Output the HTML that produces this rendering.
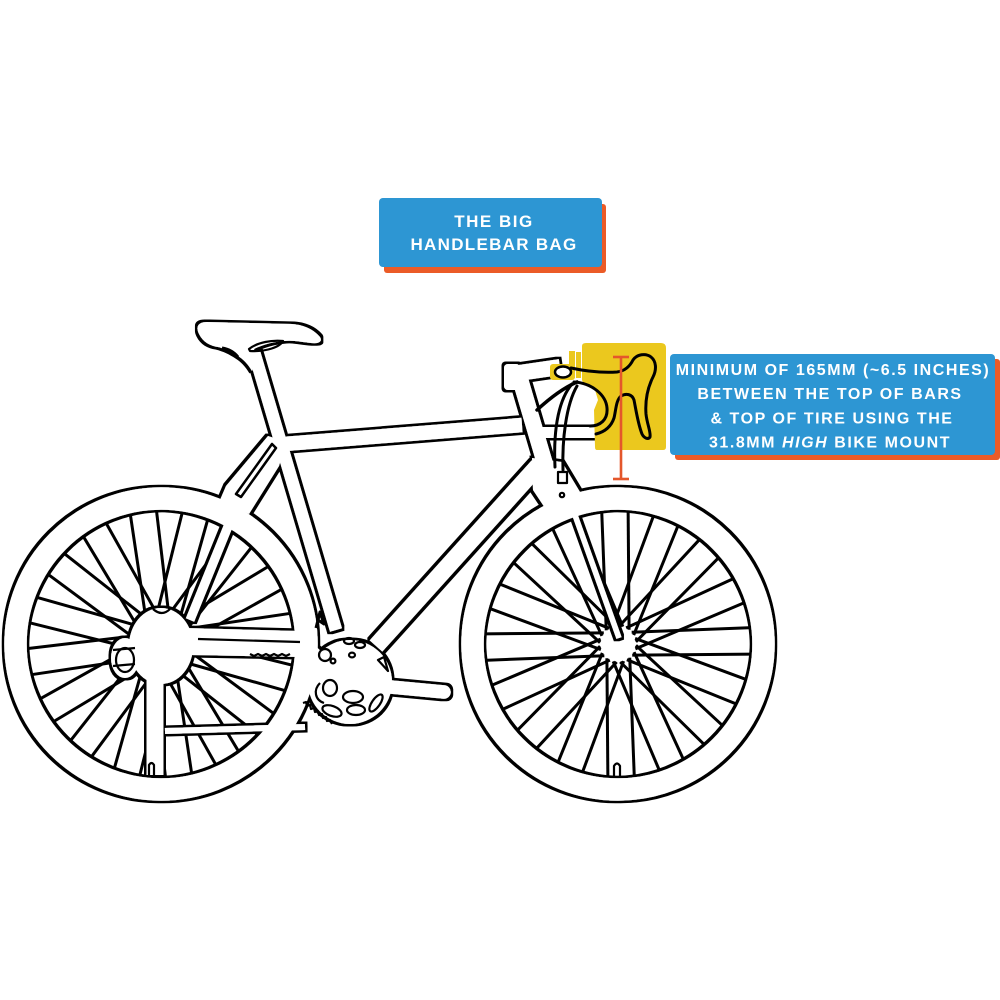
<!DOCTYPE html>
<html><head><meta charset="utf-8"><style>html,body{margin:0;padding:0;background:#fff}svg{display:block}</style></head>
<body>
<svg width="1000" height="1000" viewBox="0 0 1000 1000" xmlns="http://www.w3.org/2000/svg">
<defs>
<filter id="ol" x="0" y="0" width="1000" height="1000" filterUnits="userSpaceOnUse">
<feMorphology in="SourceAlpha" operator="dilate" radius="2.5" result="d"/>
<feFlood flood-color="#000" result="f"/>
<feComposite in="f" in2="d" operator="in" result="o"/>
<feMerge><feMergeNode in="o"/><feMergeNode in="SourceGraphic"/></feMerge>
</filter>
<line id="fe" x1="633" y1="654" x2="753" y2="644"/>
<line id="fo" x1="633" y1="634" x2="753" y2="644"/>
<line id="re" x1="176" y1="654" x2="296" y2="644"/>
<line id="ro" x1="176" y1="634" x2="296" y2="644"/>
</defs>
<rect width="1000" height="1000" fill="#fff"/>

<!-- spokes -->
<g stroke="#000" stroke-width="3" fill="none">
<use href="#fe" transform="rotate(4.3 618 644)"/><use href="#fe" transform="rotate(26.8 618 644)"/><use href="#fe" transform="rotate(49.3 618 644)"/><use href="#fe" transform="rotate(71.8 618 644)"/><use href="#fe" transform="rotate(94.3 618 644)"/><use href="#fe" transform="rotate(116.8 618 644)"/><use href="#fe" transform="rotate(139.3 618 644)"/><use href="#fe" transform="rotate(161.8 618 644)"/><use href="#fe" transform="rotate(184.3 618 644)"/><use href="#fe" transform="rotate(206.8 618 644)"/><use href="#fe" transform="rotate(229.3 618 644)"/><use href="#fe" transform="rotate(251.8 618 644)"/><use href="#fe" transform="rotate(274.3 618 644)"/><use href="#fe" transform="rotate(296.8 618 644)"/><use href="#fe" transform="rotate(319.3 618 644)"/><use href="#fe" transform="rotate(341.8 618 644)"/>
<use href="#fo" transform="rotate(15.55 618 644)"/><use href="#fo" transform="rotate(38.05 618 644)"/><use href="#fo" transform="rotate(60.55 618 644)"/><use href="#fo" transform="rotate(83.05 618 644)"/><use href="#fo" transform="rotate(105.55 618 644)"/><use href="#fo" transform="rotate(128.05 618 644)"/><use href="#fo" transform="rotate(150.55 618 644)"/><use href="#fo" transform="rotate(173.05 618 644)"/><use href="#fo" transform="rotate(195.55 618 644)"/><use href="#fo" transform="rotate(218.05 618 644)"/><use href="#fo" transform="rotate(240.55 618 644)"/><use href="#fo" transform="rotate(263.05 618 644)"/><use href="#fo" transform="rotate(285.55 618 644)"/><use href="#fo" transform="rotate(308.05 618 644)"/><use href="#fo" transform="rotate(330.55 618 644)"/><use href="#fo" transform="rotate(353.05 618 644)"/>
<use href="#re" transform="rotate(-2 161 644)"/><use href="#re" transform="rotate(20.5 161 644)"/><use href="#re" transform="rotate(43 161 644)"/><use href="#re" transform="rotate(65.5 161 644)"/><use href="#re" transform="rotate(88 161 644)"/><use href="#re" transform="rotate(110.5 161 644)"/><use href="#re" transform="rotate(133 161 644)"/><use href="#re" transform="rotate(155.5 161 644)"/><use href="#re" transform="rotate(178 161 644)"/><use href="#re" transform="rotate(200.5 161 644)"/><use href="#re" transform="rotate(223 161 644)"/><use href="#re" transform="rotate(245.5 161 644)"/><use href="#re" transform="rotate(268 161 644)"/><use href="#re" transform="rotate(290.5 161 644)"/><use href="#re" transform="rotate(313 161 644)"/><use href="#re" transform="rotate(335.5 161 644)"/>
<use href="#ro" transform="rotate(9.25 161 644)"/><use href="#ro" transform="rotate(31.75 161 644)"/><use href="#ro" transform="rotate(54.25 161 644)"/><use href="#ro" transform="rotate(76.75 161 644)"/><use href="#ro" transform="rotate(99.25 161 644)"/><use href="#ro" transform="rotate(121.75 161 644)"/><use href="#ro" transform="rotate(144.25 161 644)"/><use href="#ro" transform="rotate(166.75 161 644)"/><use href="#ro" transform="rotate(189.25 161 644)"/><use href="#ro" transform="rotate(211.75 161 644)"/><use href="#ro" transform="rotate(234.25 161 644)"/><use href="#ro" transform="rotate(256.75 161 644)"/><use href="#ro" transform="rotate(279.25 161 644)"/><use href="#ro" transform="rotate(301.75 161 644)"/><use href="#ro" transform="rotate(324.25 161 644)"/><use href="#ro" transform="rotate(346.75 161 644)"/>
</g>

<!-- silhouette -->
<g filter="url(#ol)">
 <g fill="none" stroke="#fff">
  <circle cx="161" cy="644" r="145.5" stroke-width="22.5"/>
  <circle cx="618" cy="644" r="145.5" stroke-width="22.5"/>
  <line x1="254" y1="352" x2="336" y2="630" stroke-width="12.5"/>
  <line x1="284" y1="444" x2="522" y2="425" stroke-width="14.5"/>
  <line x1="518" y1="372" x2="548" y2="474" stroke-width="16"/>
  <line x1="538" y1="466" x2="376" y2="646" stroke-width="17"/>
  <line x1="512" y1="374" x2="560" y2="367" stroke-width="16"/>
  <line x1="566" y1="490" x2="619" y2="638" stroke-width="5.5"/>
  <line x1="229" y1="524" x2="190" y2="620" stroke-width="9"/>
  <line x1="380" y1="686" x2="444" y2="692" stroke-width="13.5" stroke-linecap="round"/>
  <line x1="165" y1="731" x2="305" y2="727" stroke-width="6"/>
 </g>
 <g fill="#fff" stroke="none">
  <polygon points="268,436 286,442 279,466 249,514 220,500 226,486"/>
  <polygon points="532,458 562,462 580,492 545,508 533,490"/>
  <circle cx="350" cy="682" r="42"/>
  <polygon points="185,628 300,631 330,660 300,657 190,655"/>
  <ellipse cx="161" cy="646" rx="32" ry="38"/>
  <ellipse cx="125" cy="658" rx="14" ry="20"/>
  <rect x="146.5" y="680" width="17" height="95"/>
  <path d="M199,334 C195,326 199,322 207,322 L250,323 L292,324 C306,325 315,331 320,337 C323,342 318,344 311,343 C302,342 293,340 284,341 C272,342 262,345 254,349 L256,358 L252,371 C248,364 243,359 238,356 C232,352 226,349 218,347 C210,346 203,342 199,334 Z"/>
  <rect x="504" y="364" width="16" height="26" rx="4"/>
  <rect x="538" y="427" width="59" height="11"/>
 </g>
</g>

<!-- black detail lines -->
<g fill="none" stroke="#000" stroke-width="2.2" stroke-linejoin="round">
 <path d="M198,639 L300,642"/>
 <path d="M250,654 l4,2 l4,-2 l4,2 l4,-2 l4,2 l4,-2 l4,2 l4,-2 l4,2 l4,-2"/>
 <path d="M272,444 L236,494 L241,497 L276,448 Z" stroke-width="2.5"/>
 <path d="M249,349 C258,342 272,340 283,341 C280,347 266,352 250,351 Z"/>
 <path d="M222,348 C228,349 234,352 238,357" stroke-width="3"/>
 <ellipse cx="125" cy="660" rx="9" ry="12"/>
 <path d="M113,650 L135,648 M113,666 L135,664"/>
 <path d="M153,609 Q162,617 170,609"/>
 <path d="M149,775 L149,765 Q151.5,761 154,765 L154,775"/>
 <path d="M614,777 L614,766 Q617,761 620,766 L620,777"/>
 <rect x="558" y="472" width="9" height="11"/>
 <circle cx="562" cy="495" r="2.2"/>
 <ellipse cx="325" cy="655" rx="6" ry="6"/>
 <circle cx="333" cy="661" r="2.4"/>
 <ellipse cx="349" cy="641" rx="5" ry="3"/>
 <ellipse cx="360" cy="645" rx="5" ry="3"/>
 <ellipse cx="352" cy="655" rx="3" ry="2.4"/>
 <path d="M378,660 L384,657 L388,671 Z"/>
 <ellipse cx="330" cy="688" rx="7" ry="8"/>
 <path d="M320,683 C313,690 315,700 324,703"/>
 <ellipse cx="353" cy="697" rx="10" ry="6"/>
 <ellipse cx="332" cy="711" rx="10" ry="5" transform="rotate(20 332 711)"/>
 <ellipse cx="356" cy="710" rx="9" ry="5"/>
 <ellipse cx="376" cy="703" rx="4" ry="10" transform="rotate(35 376 703)"/>
 <polyline points="303,703 306,702 307,706 310,705 311,709 314,708 315,712 318,711 319,715 322,714 323,718 326,717 327,721 330,720 332,724"/>
 <path d="M316,628 L320,612 L324,624 L318,620" stroke-width="3"/>
</g>

<!-- yellow bag -->
<g fill="#EBC81E">
 <path d="M582,346 Q582,343 586,343 L661,343 Q666,343 666,348 L666,447 Q666,450 663,450 L597,450 Q595,450 595,447 L594,410 L598,400 L595,390 L584,385 L582,380 Z"/>
 <rect x="569" y="351" width="6" height="27"/>
 <rect x="576" y="352" width="5" height="26"/>
 <rect x="550" y="364" width="25" height="16" rx="3"/>
</g>
<ellipse cx="563" cy="372" rx="8" ry="5.5" fill="#fff" stroke="#000" stroke-width="2.5"/>

<!-- handlebar / cables -->
<g fill="none" stroke="#000" stroke-width="3" stroke-linecap="round" stroke-linejoin="round">
 <path d="M571,368 C585,371 602,373 617,372 C625,371 630,366 633,360 C637,354 646,353 651,357 C656,361 657,369 653,377 C648,387 645,400 646,414 C647,424 651,432 650,437 C648,440 644,438 642,434 C638,424 636,410 634,400 C632,394 626,393 621,396 C616,400 616,410 614,418 C611,427 604,432 596,434"/>
 <path d="M574,382 C592,383 606,395 607,408 C608,420 600,426 590,426"/>
 <path d="M572,384 C560,398 553,425 555,467"/>
 <path d="M577,386 C566,405 562,440 563,470"/>
 <path d="M537,410 C550,398 563,388 577,382" stroke-width="3.5"/>
</g>

<!-- measurement -->
<g stroke="#E4572B" stroke-width="2.6">
 <line x1="621" y1="357" x2="621" y2="479"/>
 <line x1="613" y1="357" x2="629" y2="357"/>
 <line x1="613" y1="479" x2="629" y2="479"/>
</g>

<!-- label 1 -->
<rect x="384" y="204" width="222" height="69" rx="3" fill="#EB5B27"/>
<rect x="379" y="198" width="223" height="69" rx="4" fill="#2D96D3"/>
<g font-family="'Liberation Sans', sans-serif" font-weight="bold" fill="#fff" text-anchor="middle">
 <text x="494" y="227" font-size="17" letter-spacing="1.5">THE BIG</text>
 <text x="494" y="250" font-size="17" letter-spacing="1.3">HANDLEBAR BAG</text>
</g>

<!-- label 2 -->
<rect x="675" y="359" width="325" height="101" rx="3" fill="#EB5B27"/>
<rect x="670" y="354" width="325" height="101" rx="4" fill="#2D96D3"/>
<g font-family="'Liberation Sans', sans-serif" font-weight="bold" fill="#fff" text-anchor="middle" font-size="16" letter-spacing="1.55">
 <text x="833" y="375">MINIMUM OF 165MM (~6.5 INCHES)</text>
 <text x="830" y="399">BETWEEN THE TOP OF BARS</text>
 <text x="832" y="423.5">&amp; TOP OF TIRE USING THE</text>
 <text x="830" y="447.5">31.8MM <tspan font-style="italic">HIGH</tspan> BIKE MOUNT</text>
</g>
</svg>
</body></html>
